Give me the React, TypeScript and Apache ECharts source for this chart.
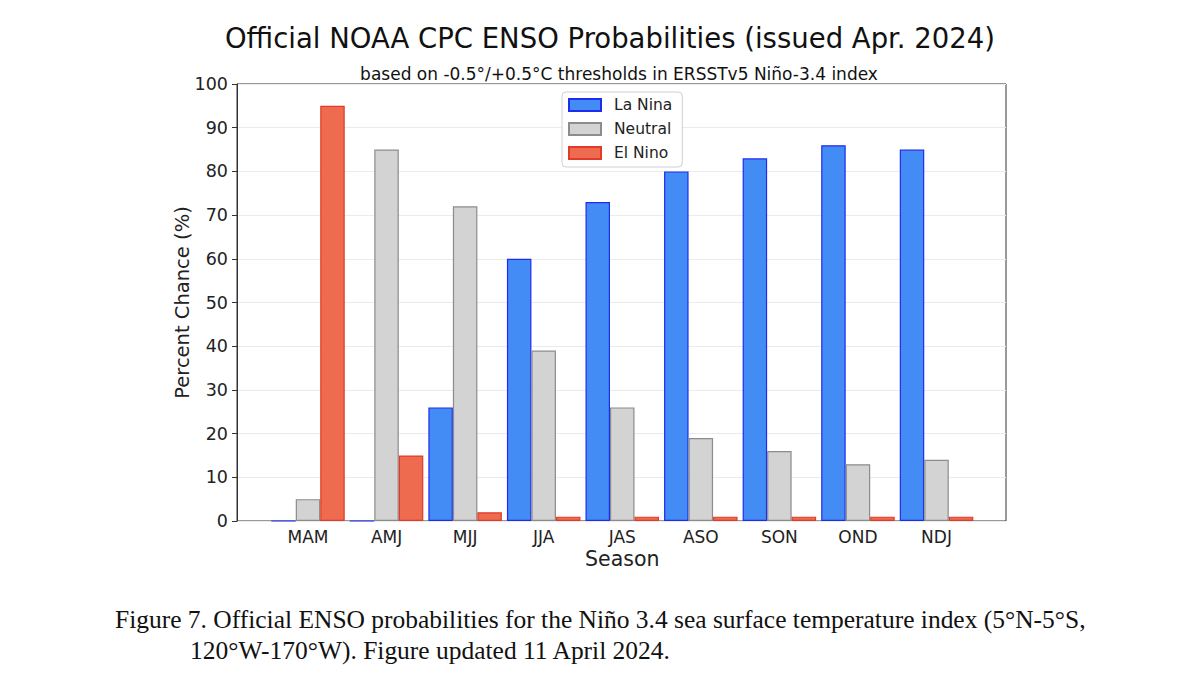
import React, { useEffect, useRef } from "react";
import * as echarts from "echarts";

const seasons = ["MAM", "AMJ", "MJJ", "JJA", "JAS", "ASO", "SON", "OND", "NDJ"];
const laNina = [0, 0, 26, 60, 73, 80, 83, 86, 85];
const neutral = [5, 85, 72, 39, 26, 19, 16, 13, 14];
const elNino = [95, 15, 2, 1, 1, 1, 1, 1, 1];
const yTicks = { min: 0, max: 100, interval: 10 };

const titleText = "Official NOAA CPC ENSO Probabilities (issued Apr. 2024)";
const subText = "based on -0.5°/+0.5°C thresholds in ERSSTv5 Niño-3.4 index";
const caption1 = "Figure 7. Official ENSO probabilities for the Niño 3.4 sea surface temperature index (5°N-5°S,";
const caption2 = "120°W-170°W). Figure updated 11 April 2024.";

const FONT = "DejaVu Sans";

export default function App() {
  const ref = useRef<HTMLDivElement>(null);
  useEffect(() => {
    const chart = echarts.init(ref.current!, null, { renderer: "svg" });
    const mk = (name: string, data: number[], fill: string, border: string) => ({
      name,
      type: "bar",
      xAxisIndex: 1,
      yAxisIndex: 1,
      data,
      barWidth: 24.5,
      barGap: "0%",
      itemStyle: { color: fill, borderColor: border, borderWidth: 1.2 },
    });
    chart.setOption({
      animation: false,
      backgroundColor: "#ffffff",
      textStyle: { fontFamily: FONT },
      title: [
        {
          text: titleText,
          left: 605,
          top: 19,
          textAlign: "center",
          textStyle: { fontFamily: FONT, fontSize: 27.5, fontWeight: "normal", color: "#111" },
        },
        {
          text: subText,
          left: 614,
          top: 60,
          textAlign: "center",
          textStyle: { fontFamily: FONT, fontSize: 17, fontWeight: "normal", color: "#111" },
        },
      ],
      legend: {
        orient: "vertical",
        left: 562,
        top: 92,
        padding: [5, 10, 6, 6],
        itemWidth: 32,
        itemHeight: 12,
        itemGap: 8,
        icon: "rect",
        backgroundColor: "#fff",
        borderColor: "#d0d0d0",
        borderWidth: 1,
        borderRadius: 4,
        textStyle: { fontFamily: FONT, fontSize: 15.5, color: "#222", padding: [0, 0, 0, 8] },
        data: ["La Nina", "Neutral", "El Nino"],
      },
      grid: [
        { left: 237, width: 769, top: 84, height: 437, show: true, borderColor: "#333", borderWidth: 1, backgroundColor: "transparent" },
        { left: 268.7, width: 707.1, top: 84, height: 437 },
      ],
      xAxis: [
        { type: "value", gridIndex: 0, show: false, min: 0, max: 1 },
        {
          type: "category",
          gridIndex: 1,
          data: seasons,
          axisLine: { show: false },
          axisTick: { show: false },
          axisLabel: { fontFamily: FONT, fontSize: 17, color: "#222", margin: 7 },
          name: "Season",
          nameLocation: "middle",
          nameMoveOverlap: false,
          nameGap: 27,
          nameTextStyle: { fontFamily: FONT, fontSize: 20.5, color: "#222" },
        },
      ],
      yAxis: [
        {
          type: "value",
          gridIndex: 0,
          min: yTicks.min,
          max: yTicks.max,
          interval: yTicks.interval,
          axisLine: { show: true, lineStyle: { color: "#333" } },
          axisTick: { show: true, length: 5, lineStyle: { color: "#333" } },
          axisLabel: { fontFamily: FONT, fontSize: 17.5, color: "#222", margin: 9 },
          splitLine: { show: true, lineStyle: { color: "#ebebeb", width: 1 } },
          name: "Percent Chance (%)",
          nameLocation: "middle",
          nameMoveOverlap: false,
          nameGap: 45,
          nameTextStyle: { fontFamily: FONT, fontSize: 19.5, color: "#222" },
        },
        { type: "value", gridIndex: 1, show: false, min: yTicks.min, max: yTicks.max },
      ],
      series: [
        mk("La Nina", laNina, "#438cf5", "#1f2cf0"),
        mk("Neutral", neutral, "#d3d3d3", "#8c8c8c"),
        mk("El Nino", elNino, "#ee6b50", "#e23a28"),
      ],
      graphic: [
        {
          type: "text",
          x: 115,
          y: 607,
          scaleX: 1.04,
          style: { text: caption1, fontFamily: "Liberation Serif", fontSize: 24.5, fill: "#111" },
        },
        {
          type: "text",
          x: 190,
          y: 638,
          scaleX: 1.04,
          style: { text: caption2, fontFamily: "Liberation Serif", fontSize: 24.5, fill: "#111" },
        },
      ],
    });
    return () => chart.dispose();
  }, []);
  return <div ref={ref} style={{ position: "fixed", left: 0, top: 0, width: 1200, height: 685 }} />;
}
